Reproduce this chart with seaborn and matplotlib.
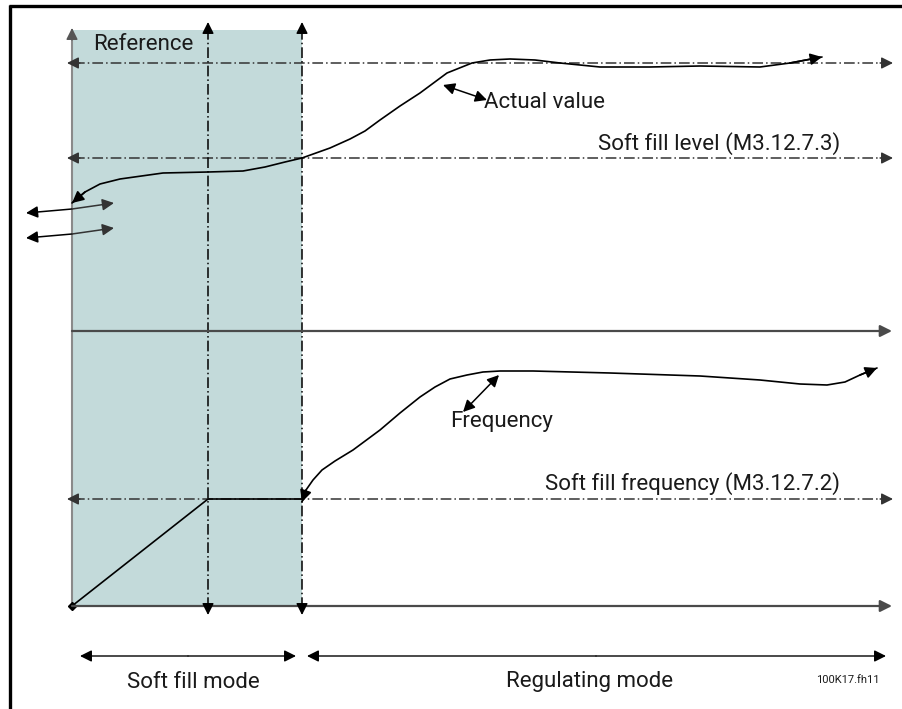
"""
Soft fill function diagram: actual value and frequency vs time
"""

import numpy as np
import pandas as pd
import matplotlib.pyplot as plt
import seaborn as sns

# Diagram units follow the drawing grid of the original sheet (x to the right, y downward)
time_start, time_ramp_end, time_fill_end, time_end = 72, 208, 302, 892

# Levels in the upper (actual value) and lower (frequency) panels
reference_level = 63
soft_fill_level = 158
upper_axis = 331
soft_fill_freq = 499
lower_axis = 606
top_of_plot = 22

# Actual value curve
actual_x = [72, 85, 100, 120, 163, 208, 243, 265, 285, 302, 330, 350, 365, 380,
            400, 420, 447, 472, 490, 510, 535, 560, 600, 650, 700, 760, 790, 822]
actual_y = [203, 192, 184, 179, 173, 172, 171, 167, 162, 158, 148, 139, 131, 120,
            106, 93, 73, 63, 60, 59, 60, 63, 67, 67, 66, 67, 63, 57]

# Frequency curve (regulating mode)
freq_x = [302, 306, 313, 322, 335, 353, 380, 400, 420, 435, 450, 467, 483, 500,
          533, 610, 700, 760, 800, 827, 845, 860, 877]
freq_y = [502, 490, 480, 470, 461, 450, 430, 413, 397, 387, 379, 375, 372, 371,
          371, 373, 376, 380, 384, 385, 382, 375, 368]

# Frequency ramp during soft fill
ramp_x = [72, 208, 302]
ramp_y = [606, 499, 499]

mode_labels = ["Soft fill mode", "Regulating mode"]
level_labels = ["Soft fill level (M3.12.7.3)", "Soft fill frequency (M3.12.7.2)"]

sns.set_style("white")
plt.rcParams['font.family'] = ['Roboto', 'DejaVu Sans']

fig = plt.figure(figsize=(9.02, 7.09), dpi=100)
ax = fig.add_axes([0, 0, 1, 1])
ax.set_xlim(0, 902)
ax.set_ylim(709, 0)
ax.axis('off')

shade = '#c3dada'
dashdot = (0, (7, 2, 1, 2))
axis_grey = '#4a4a4a'


def arrow(x0, y0, x1, y1, style='-|>', color='black', lw=1.0, ls='-', head=0.35):
    ax.annotate('', xy=(x1, y1), xytext=(x0, y0),
                arrowprops=dict(arrowstyle=f'{style},head_length={head*2},head_width={head}',
                                color=color, lw=lw, linestyle=ls,
                                shrinkA=0, shrinkB=0))


# frame (left and top edges)
ax.plot([10, 10], [5, 709], color='black', lw=2.4, solid_capstyle='butt')
ax.plot([9, 902], [6, 6], color='black', lw=2.4, solid_capstyle='butt')

# soft fill shaded region
ax.fill_between([time_start, time_fill_end], 30, lower_axis, color=shade, lw=0)

# axes
ax.plot([time_start, time_start], [lower_axis, 30], color='#8a8a8a', lw=1.5)
arrow(time_start, 40, time_start, 28, color='#555555')
arrow(time_start, upper_axis, time_end, upper_axis, color=axis_grey, lw=1.6)
arrow(time_start, lower_axis, time_end, lower_axis, color=axis_grey, lw=1.6)
ax.plot(time_start, lower_axis, marker='D', ms=4, color='black')

# horizontal level lines
for lvl in [reference_level, soft_fill_level, soft_fill_freq]:
    ax.plot([74, 886], [lvl, lvl], color='#333333', lw=1.1, linestyle=dashdot)
    arrow(80, lvl, 67, lvl, color='#333333')
    arrow(880, lvl, 893, lvl, color='#333333')

# vertical markers at ramp end and soft fill end
for tx in [time_ramp_end, time_fill_end]:
    ax.plot([tx, tx], [lower_axis + 2, top_of_plot + 6], color='black', lw=1.1,
            linestyle=dashdot)
    arrow(tx, top_of_plot + 10, tx, top_of_plot, lw=1.0)
    arrow(tx, lower_axis, tx, lower_axis + 9, lw=1.0)

# curves
sns.lineplot(x=actual_x, y=actual_y, sort=False, ax=ax, color='black', lw=1.2)
arrow(actual_x[1], actual_y[1], actual_x[0], actual_y[0], lw=1.2)
arrow(actual_x[-2], actual_y[-2], actual_x[-1], actual_y[-1], lw=1.2)

sns.lineplot(x=freq_x, y=freq_y, sort=False, ax=ax, color='black', lw=1.2)
arrow(freq_x[1], freq_y[1], freq_x[0], freq_y[0], lw=1.2)
arrow(freq_x[-2], freq_y[-2], freq_x[-1], freq_y[-1], lw=1.2)

sns.lineplot(x=ramp_x, y=ramp_y, sort=False, ax=ax, color='black', lw=1.2)

# small crossing arrows at the left axis
for yl, yr in [(213, 203), (238, 228)]:
    arrow(time_start, (yl + yr) / 2 + 1, 26, yl, lw=1.1)
    arrow(time_start, (yl + yr) / 2 + 1, 114, yr, lw=1.1, color='#333333')

# annotation arrows
arrow(443, 85, 487, 100, style='<|-|>', lw=1.1)
arrow(463, 412, 499, 375, style='<|-|>', lw=1.1)

# mode arrows
arrow(188, 656, 80, 656, style='-|>')
arrow(188, 656, 296, 656, style='-|>')
arrow(596, 656, 307, 656, style='-|>')
arrow(596, 656, 886, 656, style='-|>')

# texts
txt = dict(color='#1a1a1a', fontsize=16, va='center')
ax.text(93, 44, "Reference", ha='left', **txt)
ax.text(484, 103, "Actual value", ha='left', **txt)
ax.text(840, 144, level_labels[0], ha='right', **txt)
ax.text(450, 422, "Frequency", ha='left', **txt)
ax.text(840, 484, level_labels[1], ha='right', **txt)
ax.text(193, 682, mode_labels[0], ha='center', **txt)
ax.text(590, 682, mode_labels[1], ha='center', **txt)
ax.text(880, 680, "100K17.fh11", ha='right', va='center', fontsize=8, color='#1a1a1a')

plt.savefig('out.png', dpi=100)
plt.close()
